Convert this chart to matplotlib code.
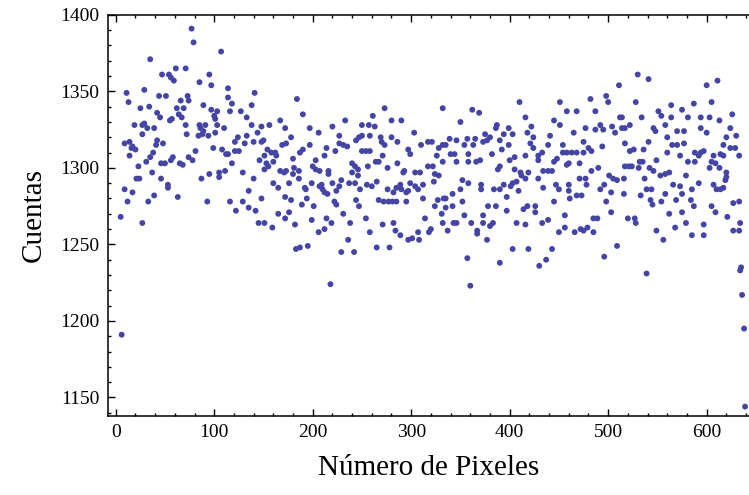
import matplotlib
matplotlib.use("Agg")
import matplotlib.pyplot as plt
from matplotlib.ticker import MultipleLocator

# values (pixel index, counts)
pixel = [
    5, 6, 9, 9, 11, 13, 12, 14, 14, 16, 17, 17, 19, 20, 21, 23, 24, 25, 27, 27,
    27, 29, 29, 31, 32, 33, 34, 35, 35, 37, 38, 39, 39, 41, 42, 42, 44, 45, 46, 46,
    47, 48, 50, 51, 53, 53, 54, 55, 56, 56, 57, 58, 59, 61, 62, 63, 64, 65, 66, 67,
    68, 69, 71, 71, 72, 73, 74,
    77, 79, 107, 95, 85, 97, 114, 141, 74, 89, 97, 103, 100, 101, 114, 118, 116, 127,
    133, 138, 85, 86, 91, 89, 94, 103, 110, 138, 148, 156, 144, 84, 88, 101, 124, 121,
    133, 131, 121, 125, 140, 148, 150, 154, 158, 99, 108, 112, 114, 78, 81, 146, 151,
    153, 155, 151, 160, 118, 111, 105, 105, 95, 87, 129, 140, 160, 93, 116, 129, 122,
    135, 142, 135, 148, 145, 151, 159,
    184, 190, 167, 172, 178, 197, 206, 220, 227, 233, 162, 163, 169, 173, 187, 190,
    197, 214, 212, 180, 223, 227, 231, 235, 244, 247, 167, 171, 173, 181, 180, 186,
    186, 200, 203, 207, 203, 216, 216, 240, 240, 243, 246, 165, 176, 199, 192, 193,
    194, 207, 210, 212, 215, 209, 220, 224, 227, 229, 237, 172, 178, 189, 201, 222,
    224, 244, 247, 165, 172, 176, 182, 199, 214, 219, 231, 238, 206, 212, 183, 187,
    195, 236, 229, 242, 218,
    273, 332, 261, 280, 290, 250, 257, 263, 303, 250, 258, 269, 280, 286, 270, 273,
    297, 299, 310, 317, 321, 328, 332, 250, 254, 258, 271, 326, 332, 256, 264, 267,
    276, 286, 293, 292, 304, 309, 317, 322, 324, 328, 246, 243, 255, 260, 265, 248,
    276, 282, 285, 289, 290, 295, 297, 299, 304, 307, 312, 323, 333, 267, 272, 277,
    281, 285, 295, 312, 327, 324, 331, 332, 254, 314, 271, 282, 258, 284, 289, 307,
    297, 301, 308, 318, 320, 265, 278,
    410, 362, 369, 350, 387, 386, 416, 418, 399, 394, 403, 375, 377, 373, 380, 339,
    346, 357, 365, 354, 363, 335, 390, 392, 399, 416, 421, 340, 344, 358, 382, 400,
    405, 346, 358, 366, 370, 405, 390, 388, 411, 412, 419, 352, 358, 371, 371, 384,
    390, 394, 403, 401, 407, 409, 350, 335, 342, 335, 342, 352, 397, 397, 378, 386,
    414, 418, 354, 361, 343, 346, 367, 367, 373, 373, 380, 383, 407, 416, 337, 377,
    357, 390, 403, 419, 360,
    498, 500, 451, 482, 458, 468, 487, 422, 445, 451, 477, 492, 487, 495, 504, 424,
    441, 465, 475, 494, 424, 439, 454, 480, 483, 429, 433, 429, 454, 458, 463, 468,
    475, 448, 445, 458, 460, 471, 434, 439, 443, 490, 483, 429, 416, 471, 477, 501,
    505, 434, 447, 450, 460, 460, 478, 492, 496, 461, 468, 473, 503, 445, 498, 426,
    426, 503, 433, 439, 456, 485, 489, 450, 456, 466, 472, 475, 479, 485, 443, 496,
    430, 437,
    530, 541, 511, 528, 564, 551, 554, 564, 512, 514, 534, 507, 514, 517, 522, 546,
    548, 558, 570, 560, 541, 517, 565, 570, 522, 526, 536, 560, 549, 532, 535, 517,
    521, 524, 531, 542, 546, 558, 562, 553, 509, 516, 537, 566, 516, 533, 539, 544,
    558, 543, 545, 554, 569, 520, 527, 528, 562, 549, 556, 568, 509, 539,
    600, 611, 587, 605, 575, 581, 594, 603, 613, 626, 594, 600, 624, 577, 577, 620,
    630, 617, 624, 629, 633, 588, 592, 597, 594, 607, 614, 617, 581, 588, 605, 609,
    603, 613, 573, 573, 579, 620, 620, 619, 592, 585, 607, 610, 614, 617, 575, 584,
    587, 605, 609, 627, 633, 575, 579, 621, 634, 597, 627, 633, 585, 597, 635, 634,
    636, 638, 639,
]

cuentas = [
    1268, 1191, 1316, 1286, 1349, 1343, 1278, 1317, 1308, 1313, 1314, 1284, 1328, 1312, 1293, 1301, 1293, 1339, 1328, 1322,
    1264, 1351, 1329, 1304, 1326, 1278, 1340, 1371, 1307, 1297, 1310, 1326, 1282, 1315, 1336, 1318, 1347, 1333, 1303, 1293,
    1361, 1316, 1303, 1347, 1289, 1287, 1361, 1331, 1359, 1305, 1332, 1307, 1357, 1365, 1339, 1281, 1335, 1303, 1344, 1333,
    1302, 1339, 1365, 1328, 1322, 1347, 1307,
    1391, 1382, 1376, 1361, 1356, 1354, 1352, 1349, 1344, 1341, 1338, 1337, 1334, 1332, 1346, 1342, 1337, 1337,
    1333, 1341, 1328, 1326, 1328, 1324, 1321, 1328, 1326, 1328, 1327, 1328, 1323, 1321, 1322, 1323, 1320, 1317,
    1321, 1316, 1311, 1311, 1317, 1317, 1318, 1312, 1310, 1313, 1312, 1309, 1309, 1305, 1311, 1305, 1308,
    1303, 1301, 1299, 1304, 1303, 1298, 1297, 1294, 1296, 1293, 1297, 1293, 1290, 1278, 1278, 1278, 1272,
    1274, 1272, 1285, 1280, 1264, 1264, 1261,
    1345, 1335, 1331, 1326, 1320, 1326, 1323, 1327, 1321, 1331, 1310, 1308, 1315, 1316, 1310, 1312,
    1315, 1313, 1308, 1306, 1311, 1316, 1315, 1314, 1318, 1320, 1298, 1297, 1298, 1300, 1296, 1298,
    1293, 1301, 1299, 1298, 1305, 1298, 1296, 1303, 1297, 1301, 1299, 1287, 1290, 1290, 1287, 1286,
    1280, 1288, 1286, 1284, 1283, 1289, 1290, 1285, 1288, 1292, 1290, 1281, 1279, 1276, 1275, 1278,
    1276, 1279, 1275, 1270, 1267, 1271, 1263, 1266, 1267, 1264, 1270, 1264, 1258, 1260, 1247, 1248,
    1249, 1253, 1245, 1245, 1224,
    1339, 1339, 1334, 1331, 1331, 1328, 1328, 1327, 1323, 1321, 1321, 1320, 1320, 1317, 1317, 1315,
    1312, 1309, 1315, 1317, 1317, 1313, 1315, 1311, 1311, 1311, 1308, 1308, 1304, 1301, 1304, 1304,
    1300, 1303, 1298, 1297, 1297, 1297, 1301, 1301, 1296, 1295, 1295, 1290, 1289, 1288, 1291, 1286,
    1286, 1284, 1287, 1289, 1286, 1284, 1285, 1290, 1288, 1286, 1289, 1291, 1280, 1279, 1278, 1278,
    1278, 1278, 1278, 1280, 1279, 1275, 1270, 1264, 1267, 1267, 1263, 1264, 1258, 1259, 1256, 1258,
    1253, 1254, 1253, 1258, 1260, 1248, 1248,
    1343, 1338, 1336, 1330, 1328, 1326, 1333, 1323, 1326, 1322, 1322, 1322, 1318, 1317, 1320, 1319,
    1318, 1319, 1319, 1315, 1315, 1315, 1318, 1312, 1315, 1308, 1316, 1309, 1309, 1309, 1309, 1305,
    1307, 1304, 1304, 1304, 1305, 1299, 1301, 1299, 1297, 1295, 1297, 1292, 1290, 1289, 1286, 1286,
    1286, 1289, 1290, 1288, 1291, 1285, 1286, 1280, 1283, 1274, 1275, 1278, 1281, 1272, 1275, 1275,
    1273, 1275, 1269, 1264, 1264, 1264, 1259, 1257, 1269, 1264, 1262, 1264, 1264, 1263, 1259, 1253,
    1241, 1238, 1247, 1247, 1223,
    1347, 1343, 1343, 1345, 1337, 1337, 1337, 1327, 1331, 1328, 1326, 1328, 1325, 1325, 1327, 1320,
    1321, 1323, 1317, 1314, 1313, 1315, 1315, 1313, 1311, 1308, 1310, 1305, 1310, 1310, 1310, 1310,
    1310, 1306, 1304, 1302, 1303, 1303, 1298, 1298, 1298, 1300, 1298, 1293, 1293, 1293, 1293, 1295,
    1293, 1287, 1289, 1286, 1289, 1285, 1289, 1286, 1289, 1280, 1282, 1282, 1284, 1278, 1278, 1275,
    1271, 1271, 1264, 1266, 1269, 1267, 1267, 1258, 1261, 1258, 1260, 1259, 1261, 1258, 1247, 1242,
    1236, 1240,
    1361, 1358, 1354, 1343, 1341, 1337, 1334, 1333, 1333, 1333, 1333, 1323, 1326, 1326, 1328, 1326,
    1324, 1328, 1324, 1320, 1317, 1316, 1315, 1315, 1311, 1312, 1312, 1310, 1305, 1304, 1304, 1301,
    1301, 1301, 1300, 1300, 1298, 1296, 1297, 1295, 1292, 1293, 1293, 1289, 1283, 1282, 1286, 1286,
    1283, 1279, 1276, 1278, 1279, 1267, 1267, 1264, 1270, 1259, 1253, 1261, 1249, 1231,
    1354, 1357, 1342, 1343, 1338, 1333, 1333, 1333, 1331, 1335, 1326, 1323, 1326, 1324, 1316, 1320,
    1321, 1315, 1313, 1313, 1308, 1310, 1308, 1311, 1310, 1308, 1309, 1308, 1304, 1304, 1304, 1303,
    1300, 1300, 1308, 1288, 1295, 1297, 1294, 1292, 1290, 1286, 1289, 1286, 1286, 1287, 1283, 1279,
    1275, 1275, 1271, 1277, 1278, 1271, 1264, 1268, 1264, 1263, 1259, 1259, 1256, 1256, 1235, 1233,
    1217, 1195, 1144,
]

xticks = [0, 100, 200, 300, 400, 500, 600]
yticks = [1150, 1200, 1250, 1300, 1350, 1400]

plt.rcParams['font.family'] = ['Liberation Serif', 'DejaVu Serif']

fig = plt.figure(figsize=(7.49, 4.95), dpi=100)
ax = fig.add_axes([0.144, 0.160, 0.856, 0.810])

ax.scatter(pixel, cuentas, s=18, color='#4545a5', edgecolors='none')

ax.set_xlim(-8, 643)
ax.set_ylim(1138, 1400)
ax.set_xticks(xticks)
ax.set_yticks(yticks)
ax.xaxis.set_minor_locator(MultipleLocator(20))
ax.yaxis.set_minor_locator(MultipleLocator(10))

ax.tick_params(which='both', direction='in', top=True, right=False, labelsize=14, width=1.0)
ax.tick_params(which='major', length=5, pad=6)
ax.tick_params(which='minor', length=2.5)
for side in ['left', 'bottom', 'top']:
    ax.spines[side].set_linewidth(1.1)
ax.spines['right'].set_visible(False)

ax.set_xlabel("Número de Pixeles", fontsize=21, labelpad=10)
ax.set_ylabel("Cuentas", fontsize=21, labelpad=10)

fig.savefig("out.png", dpi=100)
